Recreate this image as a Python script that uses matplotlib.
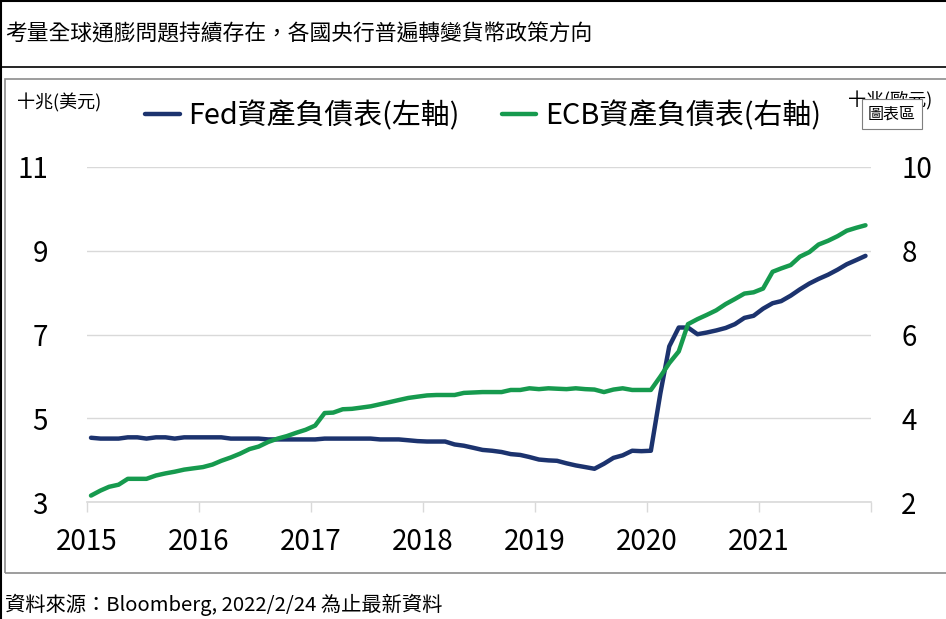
import matplotlib
matplotlib.use("Agg")
import matplotlib.pyplot as plt
import matplotlib.patches as mpatches
import pandas as pd

plt.rcParams["font.family"] = ["Noto Sans CJK TC", "DejaVu Sans"]

# 月資料 2015/01 ~ 2021/12
fechas = pd.date_range("2015-01-01", "2021-12-01", freq="MS") + pd.Timedelta(days=14)

# Fed 資產負債表 (十兆美元, 左軸)
fed = [4.54, 4.52, 4.52, 4.52, 4.55, 4.55, 4.52, 4.55, 4.55, 4.52, 4.55, 4.55,
       4.55, 4.55, 4.55, 4.52, 4.52, 4.52, 4.52, 4.50, 4.50, 4.50, 4.50, 4.50,
       4.50, 4.52, 4.52, 4.52, 4.52, 4.52, 4.52, 4.50, 4.50, 4.50, 4.48, 4.46,
       4.45, 4.45, 4.45, 4.38, 4.35, 4.30, 4.25, 4.23, 4.20, 4.15, 4.13, 4.08,
       4.02, 4.00, 3.99, 3.93, 3.88, 3.84, 3.80, 3.92, 4.06, 4.12, 4.23, 4.22,
       4.23, 5.60, 6.72, 7.17, 7.17, 7.01, 7.05, 7.10, 7.16, 7.25, 7.40, 7.45,
       7.62, 7.75, 7.80, 7.93, 8.08, 8.22, 8.33, 8.43, 8.55, 8.68, 8.78, 8.88]

# ECB 資產負債表 (十兆歐元, 右軸)
ecb = [2.16, 2.28, 2.37, 2.42, 2.56, 2.56, 2.56, 2.64, 2.69, 2.73, 2.78, 2.81,
       2.84, 2.90, 2.99, 3.07, 3.16, 3.27, 3.33, 3.44, 3.52, 3.58, 3.66, 3.73,
       3.83, 4.13, 4.14, 4.22, 4.23, 4.26, 4.29, 4.34, 4.39, 4.44, 4.49, 4.52,
       4.55, 4.56, 4.56, 4.56, 4.61, 4.62, 4.63, 4.63, 4.63, 4.68, 4.68, 4.72,
       4.70, 4.72, 4.71, 4.70, 4.72, 4.70, 4.69, 4.63, 4.69, 4.72, 4.68, 4.68,
       4.68, 5.00, 5.32, 5.60, 6.25, 6.37, 6.47, 6.58, 6.73, 6.85, 6.98, 7.01,
       7.10, 7.50, 7.58, 7.66, 7.86, 7.97, 8.15, 8.24, 8.35, 8.48, 8.55, 8.61]

anios = ["2015", "2016", "2017", "2018", "2019", "2020", "2021", ""]
ticks_izq = [3, 5, 7, 9, 11]
ticks_der = [2, 4, 6, 8, 10]

titulo = "考量全球通膨問題持續存在，各國央行普遍轉變貨幣政策方向"
fuente = "資料來源：Bloomberg, 2022/2/24 為止最新資料"

col_fed = "#1c336e"
col_ecb = "#169a4e"
gris = "#d9d9d9"

W, H = 946, 619
fig = plt.figure(figsize=(W / 100, H / 100), dpi=100)

# marcos
fig.add_artist(plt.Line2D([0, 1], [1 - 1 / H, 1 - 1 / H], color="black", lw=1.5))
fig.add_artist(plt.Line2D([0, 1], [1 - 67 / H, 1 - 67 / H], color="black", lw=1.2))
fig.add_artist(plt.Line2D([1 / W, 1 / W], [0, 1], color="black", lw=1.5))
fig.add_artist(mpatches.Rectangle((5 / W, 1 - 573 / H), 1, (573 - 79) / H,
                                  transform=fig.transFigure, fill=False,
                                  edgecolor="#8c8c8c", lw=1.2))

fig.text(5 / W, 1 - 34 / H, titulo, fontsize=15.7, va="center", ha="left")
fig.text(5 / W, 1 - 605 / H, fuente, fontsize=14.6, va="center", ha="left")

ax = fig.add_axes([86.7 / W, 1 - 502.3 / H, (870.7 - 86.7) / W, (502.3 - 167) / H])
ax2 = ax.twinx()

ax.plot(fechas, fed, color=col_fed, lw=3.2, solid_capstyle="round", label="Fed資產負債表(左軸)")
ax2.plot(fechas, ecb, color=col_ecb, lw=3.2, solid_capstyle="round", label="ECB資產負債表(右軸)")

ax.set_xlim(pd.Timestamp("2015-01-01"), pd.Timestamp("2022-01-01"))
ax.set_ylim(3, 11)
ax2.set_ylim(2, 10)
ax.set_yticks(ticks_izq)
ax2.set_yticks(ticks_der)
ax.set_xticks([pd.Timestamp(f"{y}-01-01") for y in range(2015, 2023)])
ax.set_xticklabels(anios)

ax.grid(axis="y", color=gris, lw=1)
ax.set_axisbelow(True)
for a in (ax, ax2):
    for s in a.spines.values():
        s.set_visible(False)
ax.spines["bottom"].set_visible(True)
ax.spines["bottom"].set_color(gris)
ax.spines["bottom"].set_linewidth(1.2)

ax.tick_params(axis="x", length=7, width=1, color=gris, pad=11, labelsize=20)
ax.tick_params(axis="y", length=0, pad=28, labelsize=20)
ax2.tick_params(axis="y", length=0, pad=22, labelsize=20)

fig.text(17 / W, 1 - 103 / H, "十兆(美元)", fontsize=13, va="center", ha="left")
fig.text(848 / W, 1 - 101 / H, "十兆(歐元)", fontsize=13, va="center", ha="left")
# cuadro emergente "圖表區" que tapa la unidad derecha
fig.text(892 / W, 1 - 114 / H, "圖表區", fontsize=11.5, va="center", ha="center",
         bbox=dict(boxstyle="square,pad=0.4", facecolor="white", edgecolor="#7f7f7f", lw=0.8))

h1, l1 = ax.get_legend_handles_labels()
h2, l2 = ax2.get_legend_handles_labels()
fig.legend(h1 + h2, l1 + l2, loc="center left", bbox_to_anchor=(145 / W, 1 - 116 / H),
           ncol=2, frameon=False, fontsize=20.8, handlelength=1.2, handletextpad=0.3,
           columnspacing=1.45, borderpad=0, borderaxespad=0)

fig.savefig("out.png", dpi=100)
